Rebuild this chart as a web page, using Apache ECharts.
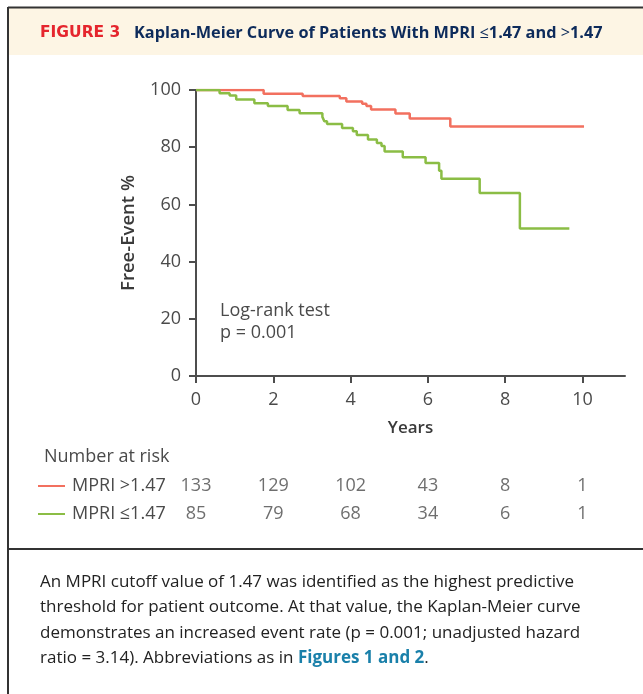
<!DOCTYPE html>
<html><head><meta charset="utf-8">
<script src="https://cdn.jsdelivr.net/npm/echarts@6/dist/echarts.min.js"></script>
<style>html,body{margin:0;padding:0;background:#fff}#c{width:643px;height:694px}</style>
</head><body><div id="c"></div>
<script>
// Kaplan-Meier step points: [years, free-event %]
const highMPRI = [[0,100],[1.75,98.7],[2.76,97.9],[3.72,97.1],[3.89,96.0],[4.30,95.2],[4.41,94.4],[4.53,93.2],[5.16,91.8],[5.53,90.0],[6.58,87.2],[10.04,87.2]];
const lowMPRI = [[0,100],[0.61,98.9],[0.87,98.1],[1.04,96.7],[1.51,95.4],[1.86,94.4],[2.37,93.0],[2.68,91.9],[3.27,90.6],[3.32,89.1],[3.39,88.1],[3.78,86.7],[4.06,85.6],[4.16,84.3],[4.45,82.7],[4.68,81.5],[4.80,80.4],[4.88,78.5],[5.35,76.5],[5.94,74.5],[6.29,71.8],[6.35,69.0],[7.34,64.0],[8.38,51.6],[9.66,51.6]];
const riskYears = [0,2,4,6,8,10];
const riskHigh = [133,129,102,43,8,1];
const riskLow = [85,79,68,34,6,1];
const groupNames = ['MPRI >1.47','MPRI \u22641.47'];
const xTicks = [0,2,4,6,8,10];
const captionLines = [
  'An MPRI cutoff value of 1.47 was identified as the highest predictive',
  'threshold for patient outcome. At that value, the Kaplan-Meier curve',
  'demonstrates an increased event rate (p = 0.001; unadjusted hazard'
];

const RED = '#f2705f', GREEN = '#8bbd45', AX = '#4d4d4d', TXT = '#4a4a4a';
const FF = '"Open Sans", sans-serif';
const FS = 18;
const CF = '"Open Sans", sans-serif';
const CS = 17;

const riskData = [];
riskYears.forEach((y,i)=>{ riskData.push([y,0,riskHigh[i]]); riskData.push([y,1,riskLow[i]]); });

const chart = echarts.init(document.getElementById('c'), null, {renderer:'canvas'});
chart.setOption({
  animation:false,
  backgroundColor:'#fff',
  grid:[
    {left:196, right:18, top:90, bottom:318},
    {left:196, right:18, top:472, height:56}
  ],
  xAxis:[
    {gridIndex:0, type:'value', min:0, max:11.1, interval:2,
     name:'Years', nameLocation:'middle', nameGap:44,
     nameTextStyle:{fontFamily:FF, fontSize:17, fontWeight:600, color:'#3a3a3a'},
     axisLine:{lineStyle:{color:AX, width:2}},
     axisTick:{show:true, length:7, lineStyle:{color:AX, width:2}, customValues:xTicks},
     axisLabel:{fontFamily:FF, fontSize:FS, color:TXT, margin:15, customValues:xTicks},
     splitLine:{show:false}},
    {gridIndex:1, type:'value', min:0, max:11.1, show:false}
  ],
  yAxis:[
    {gridIndex:0, type:'value', min:0, max:100, interval:20,
     name:'Free-Event %', nameLocation:'middle', nameGap:58, nameRotate:90,
     nameTextStyle:{fontFamily:FF, fontSize:18.5, fontWeight:600, color:'#3a3a3a'},
     axisLine:{show:true, lineStyle:{color:AX, width:2}},
     axisTick:{show:true, length:7, lineStyle:{color:AX, width:2}},
     axisLabel:{fontFamily:FF, fontSize:FS, color:TXT, margin:15},
     splitLine:{show:false}},
    {gridIndex:1, type:'category', data:groupNames, inverse:true, show:false}
  ],
  series:[
    {type:'line', name:groupNames[0], data:highMPRI, step:'end', showSymbol:false,
     lineStyle:{color:RED, width:2.5}, itemStyle:{color:RED}, xAxisIndex:0, yAxisIndex:0},
    {type:'line', name:groupNames[1], data:lowMPRI, step:'end', showSymbol:false,
     lineStyle:{color:GREEN, width:2.5}, itemStyle:{color:GREEN}, xAxisIndex:0, yAxisIndex:0},
    {type:'scatter', data:riskData, xAxisIndex:1, yAxisIndex:1, symbolSize:1,
     itemStyle:{color:'rgba(0,0,0,0)'}, silent:true,
     label:{show:true, position:'inside', formatter:p=>String(p.value[2]),
            fontFamily:FF, fontSize:FS, color:TXT}}
  ],
  graphic:[
    {type:'rect', shape:{x:9, y:8, width:640, height:47}, style:{fill:'#fdf5e4'}, z:-1},
    {type:'line', shape:{x1:8, y1:7.5, x2:650, y2:7.5}, style:{stroke:'#333', lineWidth:2}},
    {type:'line', shape:{x1:8, y1:7, x2:8, y2:700}, style:{stroke:'#333', lineWidth:2}},
    {type:'line', shape:{x1:8, y1:549, x2:650, y2:549}, style:{stroke:'#333', lineWidth:2}},
    {type:'text', x:40, y:33, style:{text:'FIGURE 3', font:'bold 15.5px "DejaVu Sans", sans-serif', fill:'#e5252d', textVerticalAlign:'middle', textAlign:'left'}},
    {type:'text', x:134, y:33, style:{
      text:'{b|Kaplan-Meier Curve of Patients With MPRI }{s|\u2264}{b|1.47 and }{s|>}{b|1.47}',
      textVerticalAlign:'middle', textAlign:'left',
      rich:{b:{fontFamily:'"Open Sans", sans-serif', fontSize:16.3, fontWeight:'bold', fill:'#0d2b5b'},
            s:{fontFamily:'"Open Sans", sans-serif', fontSize:16.3, fontWeight:'normal', fill:'#0d2b5b'}}}},
    {type:'text', x:220, y:311, style:{text:'Log-rank test', font:FS+'px '+FF, fill:TXT, textVerticalAlign:'middle'}},
    {type:'text', x:220, y:333, style:{text:'p = 0.001', font:FS+'px '+FF, fill:TXT, textVerticalAlign:'middle'}},
    {type:'text', x:44, y:457, style:{text:'Number at risk', font:FS+'px '+FF, fill:TXT, textVerticalAlign:'middle'}},
    {type:'line', shape:{x1:38, y1:486, x2:65, y2:486}, style:{stroke:RED, lineWidth:2}},
    {type:'line', shape:{x1:38, y1:514, x2:65, y2:514}, style:{stroke:GREEN, lineWidth:2}},
    {type:'text', x:72, y:486, style:{text:groupNames[0], font:FS+'px '+FF, fill:TXT, textVerticalAlign:'middle'}},
    {type:'text', x:72, y:514, style:{text:groupNames[1], font:FS+'px '+FF, fill:TXT, textVerticalAlign:'middle'}},
    {type:'text', x:40, y:582, style:{text:captionLines[0], font:CS+'px '+CF, fill:'#222', textVerticalAlign:'middle'}},
    {type:'text', x:40, y:607, style:{text:captionLines[1], font:CS+'px '+CF, fill:'#222', textVerticalAlign:'middle'}},
    {type:'text', x:40, y:633, style:{text:captionLines[2], font:CS+'px '+CF, fill:'#222', textVerticalAlign:'middle'}},
    {type:'text', x:40, y:658, style:{
      text:'{n|ratio = 3.14). Abbreviations as in }{l|Figures 1 and 2}{n|.}',
      textVerticalAlign:'middle',
      rich:{n:{fontFamily:CF, fontSize:CS, fill:'#222'},
            l:{fontFamily:CF, fontSize:CS, fontWeight:'bold', fill:'#1a80aa'}}}}
  ]
});
</script></body></html>
